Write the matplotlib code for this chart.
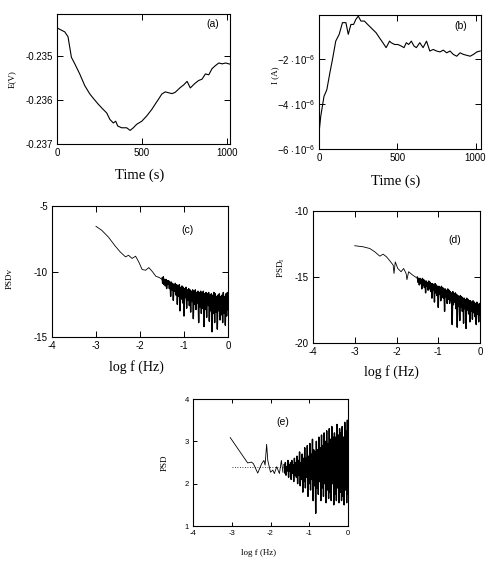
import numpy as np
import matplotlib
matplotlib.use("Agg")
import matplotlib.pyplot as plt

plt.rcParams["font.family"] = "Liberation Sans"
plt.rcParams["axes.unicode_minus"] = False
plt.rcParams["mathtext.fontset"] = "custom"
plt.rcParams["mathtext.rm"] = "Liberation Serif"
plt.rcParams["mathtext.sf"] = "Liberation Sans"

# (a) potential vs time
t_a = [0, 6, 46, 65, 85, 105, 134, 164, 194, 219, 243, 272, 293, 312, 332, 346, 358, 381,
       411, 431, 450, 470, 500, 529, 559, 579, 598, 618, 638, 658, 678, 697, 727, 747, 767,
       786, 812, 835, 855, 875, 895, 914, 934, 954, 974, 994, 1023]
E_a = [-0.23434, -0.23436, -0.23444, -0.23455, -0.23502, -0.23517, -0.2354, -0.23567,
       -0.23586, -0.23598, -0.23609, -0.23621, -0.23629, -0.23644, -0.23652, -0.23648,
       -0.23659, -0.23663, -0.23663, -0.23669, -0.23663, -0.23655, -0.23648, -0.23636,
       -0.23621, -0.23609, -0.23598, -0.23586, -0.23581, -0.23583, -0.23585, -0.23582,
       -0.23571, -0.23565, -0.23557, -0.23572, -0.23562, -0.23555, -0.23552, -0.2354,
       -0.23542, -0.23528, -0.23521, -0.23515, -0.23517, -0.23515, -0.23518]

# (b) current vs time (units of 1e-6 A)
t_b = [0, 11, 32, 50, 70, 86, 107, 129, 150, 172, 187, 204, 221, 236, 251, 268, 290, 311,
       343, 365, 386, 408, 429, 451, 461, 483, 504, 526, 543, 558, 573, 590, 607, 622, 644,
       665, 687, 708, 730, 751, 773, 794, 816, 837, 858, 880, 901, 923, 944, 966, 987, 1009, 1030]
I_b = [-5.3, -4.56, -3.66, -3.37, -2.6, -2.03, -1.21, -0.91, -0.39, -0.39, -0.91, -0.47,
       -0.47, -0.24, -0.1, -0.32, -0.32, -0.47, -0.69, -0.84, -1.06, -1.28, -1.5, -1.21,
       -1.28, -1.36, -1.36, -1.43, -1.5, -1.28, -1.36, -1.21, -1.43, -1.5, -1.28, -1.5,
       -1.21, -1.65, -1.58, -1.65, -1.69, -1.61, -1.73, -1.65, -1.8, -1.88, -1.73, -1.8,
       -1.84, -1.88, -1.8, -1.69, -1.65]

# (c) PSD of potential
logf_c = [-3.0, -2.87, -2.72, -2.56, -2.45, -2.33, -2.26, -2.18, -2.10, -2.03, -1.95,
          -1.87, -1.80, -1.72, -1.64, -1.56, -1.5]
psd_c = [-6.55, -6.85, -7.36, -8.07, -8.5, -8.88, -8.76, -9.0, -8.83, -9.26, -9.85,
         -9.9, -9.7, -10.0, -10.36, -10.46, -10.6]
psd_c_hf = [-10.5, -10.9, -10.4, -11.0, -10.6, -11.1, -10.6, -11.3, -10.7, -11.0,
            -10.7, -11.3, -10.8, -11.9, -10.8, -11.4, -10.9, -12.2, -11.0, -11.5,
            -10.9, -11.8, -11.0, -12.5, -11.1, -11.9, -11.0, -13.0, -11.2, -12.1,
            -11.1, -12.4, -11.2, -13.4, -11.3, -12.0, -11.2, -12.8, -11.4, -12.2,
            -11.3, -12.6, -11.4, -13.1, -11.5, -12.3, -11.4, -13.6, -11.5, -12.5,
            -11.4, -12.9, -11.6, -12.4, -11.5, -13.9, -11.6, -12.7, -11.5, -13.2,
            -11.6, -12.8, -11.5, -14.2, -11.7, -12.9, -11.6, -13.5, -11.7, -12.6,
            -11.6, -13.8, -11.8, -13.0, -11.7, -14.6, -11.8, -13.2, -11.6, -13.9,
            -11.7, -13.1, -11.9, -14.4, -11.8, -13.0, -11.7, -13.7, -11.9, -13.3,
            -11.8, -13.9, -11.6, -13.2, -11.9, -14.1, -11.7, -13.4, -11.6, -12.9]

# (d) PSD of current
logf_d = [-3.0, -2.8, -2.64, -2.52, -2.40, -2.32, -2.24, -2.16, -2.08, -2.06, -2.03,
          -1.97, -1.89, -1.83, -1.77, -1.75, -1.71, -1.61, -1.5]
psd_d = [-12.63, -12.71, -12.84, -13.09, -13.42, -13.27, -13.47, -13.77, -14.1, -14.73,
         -13.85, -14.35, -14.6, -14.35, -14.73, -15.2, -14.6, -14.86, -15.1]
psd_d_hf = [-15.0, -15.4, -15.1, -15.6, -15.1, -15.5, -15.2, -15.9, -15.1, -15.6,
            -15.2, -15.8, -15.3, -16.2, -15.3, -15.7, -15.4, -16.0, -15.3, -15.9,
            -15.4, -16.1, -15.5, -16.6, -15.5, -16.0, -15.6, -16.9, -15.5, -16.2,
            -15.6, -16.4, -15.7, -17.3, -15.7, -16.3, -15.8, -16.8, -15.7, -16.5,
            -15.8, -16.6, -15.9, -17.6, -15.9, -16.5, -16.0, -17.0, -15.9, -16.7,
            -16.0, -17.0, -16.1, -16.8, -16.2, -18.6, -16.1, -17.1, -16.3, -16.9,
            -16.2, -17.4, -16.3, -18.8, -16.4, -17.2, -16.5, -18.3, -16.4, -17.3,
            -16.5, -17.6, -16.6, -18.5, -16.6, -17.4, -16.7, -18.9, -16.6, -17.5,
            -16.7, -17.8, -16.8, -18.4, -16.8, -17.6, -16.9, -18.2, -16.8, -17.7,
            -16.9, -18.0, -17.0, -18.6, -16.9, -17.8, -17.1, -18.4, -17.0, -17.9]

# (e) PSD ratio
logf_e = [-3.04, -2.59, -2.49, -2.44, -2.33, -2.23, -2.17, -2.14, -2.10, -2.07, -2.0,
          -1.94, -1.90, -1.84, -1.77, -1.72, -1.68]
psd_e = [3.09, 2.49, 2.51, 2.47, 2.25, 2.47, 2.55, 2.44, 2.93, 2.55, 2.27,
         2.32, 2.24, 2.4, 2.24, 2.55, 2.27]
psd_e_hf = [2.45, 2.25, 2.5, 2.2, 2.4, 2.3, 2.55, 2.15, 2.45, 2.3,
            2.5, 2.1, 2.55, 2.25, 2.45, 2.05, 2.6, 2.2, 2.5, 2.15,
            2.65, 2.0, 2.55, 2.2, 2.75, 1.95, 2.5, 2.1, 2.7, 1.8,
            2.6, 2.05, 2.85, 1.9, 2.6, 2.15, 2.9, 1.7, 2.65, 2.0,
            2.95, 1.85, 2.7, 2.1, 3.05, 1.6, 2.8, 1.95, 2.75, 1.3,
            3.0, 1.9, 2.8, 1.75, 3.1, 2.05, 2.85, 1.6, 3.15, 1.9,
            2.9, 1.7, 3.2, 2.0, 3.0, 1.55, 3.25, 1.85, 2.95, 1.65,
            3.3, 1.8, 3.05, 1.6, 3.35, 2.0, 3.1, 1.5, 3.2, 1.75,
            3.1, 1.6, 3.4, 1.9, 3.15, 1.55, 3.3, 1.8, 3.2, 1.6,
            3.35, 1.7, 3.1, 1.5, 3.45, 1.85, 3.25, 1.55, 3.5, 1.75]
psd_e_mean = 2.4

fig = plt.figure(figsize=(4.9, 5.72), dpi=100)
ax_a = fig.add_axes([0.1163, 0.7483, 0.3531, 0.2273])
ax_b = fig.add_axes([0.651, 0.7395, 0.3306, 0.2343])
ax_c = fig.add_axes([0.1061, 0.4108, 0.3592, 0.229])
ax_d = fig.add_axes([0.6388, 0.4003, 0.3408, 0.2308])
ax_e = fig.add_axes([0.3939, 0.0804, 0.3163, 0.222])


def style(ax, fs=7):
    ax.tick_params(direction="in", top=True, right=True, length=4, width=0.7,
                   labelsize=fs, pad=3)
    for s in ax.spines.values():
        s.set_linewidth(0.8)


serif = "Liberation Serif"

# (a)
ax_a.plot(t_a, E_a, color="black", lw=0.8)
ax_a.set_xlim(0, 1020)
ax_a.set_ylim(-0.237, -0.23403)
ax_a.set_xticks([0, 500, 1000])
ax_a.set_yticks([-0.237, -0.236, -0.235])
ax_a.set_yticklabels(["-0.237", "-0.236", "-0.235"])
style(ax_a)
ax_a.set_xlabel("Time (s)", family=serif, fontsize=10.5, va="center")
ax_a.xaxis.set_label_coords(0.48, -0.24)
ax_a.set_ylabel("E(V)", family=serif, fontsize=6.5, va="center")
ax_a.yaxis.set_label_coords(-0.26, 0.5)
ax_a.text(0.9, 0.92, "(a)", transform=ax_a.transAxes, fontsize=7.5, ha="center", va="center")

# (b)
ax_b.plot(t_b, I_b, color="black", lw=0.8)
ax_b.set_xlim(0, 1035)
ax_b.set_ylim(-6, -0.05)
ax_b.set_xticks([0, 500, 1000])
ax_b.set_yticks([-6, -4, -2])
ax_b.set_yticklabels([r"$\mathsf{-6\cdot10^{-6}}$", r"$\mathsf{-4\cdot10^{-6}}$",
                      r"$\mathsf{-2\cdot10^{-6}}$"])
style(ax_b)
ax_b.set_xlabel("Time (s)", family=serif, fontsize=10.5, va="center")
ax_b.xaxis.set_label_coords(0.47, -0.24)
ax_b.set_ylabel("I (A)", family=serif, fontsize=6.5, va="center")
ax_b.yaxis.set_label_coords(-0.27, 0.55)
ax_b.text(0.875, 0.918, "(b)", transform=ax_b.transAxes, fontsize=7.5, ha="center", va="center")

# (c)
ax_c.plot(logf_c, psd_c, color="black", lw=0.6)
ax_c.plot(np.linspace(-1.5, 0, len(psd_c_hf)), psd_c_hf, color="black", lw=1.0)
ax_c.set_xlim(-4, 0)
ax_c.set_ylim(-15, -5)
ax_c.set_xticks([-4, -3, -2, -1, 0])
ax_c.set_yticks([-15, -10, -5])
style(ax_c)
ax_c.set_xlabel("log f (Hz)", family=serif, fontsize=10, va="center")
ax_c.xaxis.set_label_coords(0.48, -0.23)
ax_c.set_ylabel("PSDv", family=serif, fontsize=6.5, va="center")
ax_c.yaxis.set_label_coords(-0.24, 0.45)
ax_c.text(0.77, 0.82, "(c)", transform=ax_c.transAxes, fontsize=7.5, ha="center", va="center")

# (d)
ax_d.plot(logf_d, psd_d, color="black", lw=0.6)
ax_d.plot(np.linspace(-1.5, 0, len(psd_d_hf)), psd_d_hf, color="black", lw=1.0)
ax_d.set_xlim(-4, 0)
ax_d.set_ylim(-20, -10)
ax_d.set_xticks([-4, -3, -2, -1, 0])
ax_d.set_yticks([-20, -15, -10])
style(ax_d)
ax_d.set_xlabel("log f (Hz)", family=serif, fontsize=10, va="center")
ax_d.xaxis.set_label_coords(0.47, -0.22)
ax_d.set_ylabel(r"PSD$_\mathrm{I}$", family=serif, fontsize=6.5, va="center")
ax_d.yaxis.set_label_coords(-0.19, 0.57)
ax_d.text(0.85, 0.78, "(d)", transform=ax_d.transAxes, fontsize=7.5, ha="center", va="center")

# (e)
ax_e.plot(logf_e, psd_e, color="black", lw=0.6)
ax_e.plot(np.linspace(-1.65, 0, len(psd_e_hf)), psd_e_hf, color="black", lw=1.0)
ax_e.plot([-3, 0], [psd_e_mean, psd_e_mean], color="black", lw=0.6, ls=(0, (1, 2)), zorder=0)
ax_e.set_xlim(-4, 0)
ax_e.set_ylim(1, 4)
ax_e.set_xticks([-4, -3, -2, -1, 0])
ax_e.set_yticks([1, 2, 3, 4])
style(ax_e, fs=5.5)
ax_e.tick_params(length=3)
ax_e.set_xlabel("log f (Hz)", family=serif, fontsize=6.5, va="center")
ax_e.xaxis.set_label_coords(0.42, -0.21)
ax_e.set_ylabel("PSD", family=serif, fontsize=6.5, va="center")
ax_e.yaxis.set_label_coords(-0.18, 0.5)
ax_e.text(0.58, 0.82, "(e)", transform=ax_e.transAxes, fontsize=7.5, ha="center", va="center")

fig.savefig("out.png", dpi=100)
